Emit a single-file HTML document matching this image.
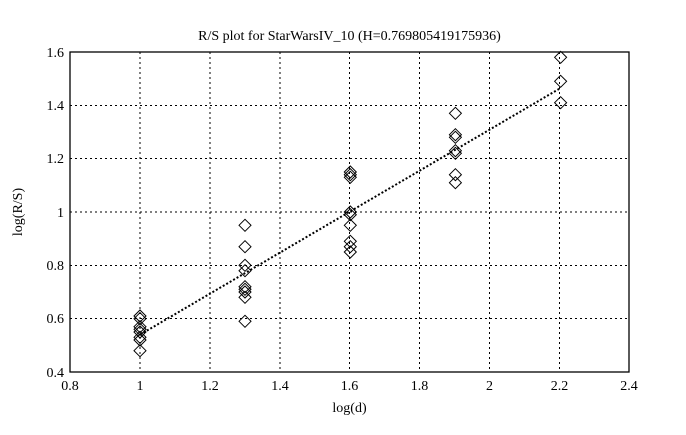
<!DOCTYPE html>
<html><head><style>
body{margin:0;background:#fff}
svg text{font-family:"Liberation Serif",serif;font-size:14px;fill:#000}
</style></head><body>
<svg width="686" height="430" xmlns="http://www.w3.org/2000/svg">
<defs><path id="d" d="M-6,0 L0,-6 L6,0 L0,6 Z" fill="none" stroke="#000" stroke-width="1"/></defs>
<rect width="686" height="430" fill="#fff"/>
<g stroke="#000" stroke-width="1" stroke-dasharray="2,3">
<line x1="140" y1="52" x2="140" y2="372"/>
<line x1="210" y1="52" x2="210" y2="372"/>
<line x1="280" y1="52" x2="280" y2="372"/>
<line x1="349.5" y1="52" x2="349.5" y2="372"/>
<line x1="419.5" y1="52" x2="419.5" y2="372"/>
<line x1="489.5" y1="52" x2="489.5" y2="372"/>
<line x1="559.5" y1="52" x2="559.5" y2="372"/>
<line x1="70" y1="105.5" x2="629" y2="105.5"/>
<line x1="70" y1="158.5" x2="629" y2="158.5"/>
<line x1="70" y1="212" x2="629" y2="212"/>
<line x1="70" y1="265.5" x2="629" y2="265.5"/>
<line x1="70" y1="318.5" x2="629" y2="318.5"/>
</g>
<rect x="70" y="52" width="559" height="320" fill="none" stroke="#000" stroke-width="1.3"/>
<line x1="140" y1="334.7" x2="560.6" y2="88" stroke="#000" stroke-width="2" stroke-dasharray="2,2"/>
<g>
<use href="#d" x="140" y="316"/><use href="#d" x="140" y="318.7"/><use href="#d" x="140" y="326.7"/><use href="#d" x="140" y="329.3"/><use href="#d" x="140" y="332"/><use href="#d" x="140" y="337.3"/><use href="#d" x="140" y="340"/><use href="#d" x="140" y="350.7"/>
<use href="#d" x="245" y="225.3"/><use href="#d" x="245" y="246.7"/><use href="#d" x="245" y="265.3"/><use href="#d" x="245" y="270.7"/><use href="#d" x="245" y="286.7"/><use href="#d" x="245" y="289.3"/><use href="#d" x="245" y="292"/><use href="#d" x="245" y="297.3"/><use href="#d" x="245" y="321.3"/>
<use href="#d" x="350.3" y="172"/><use href="#d" x="350.3" y="174.7"/><use href="#d" x="350.3" y="177.3"/><use href="#d" x="350.3" y="212"/><use href="#d" x="350.3" y="214.7"/><use href="#d" x="350.3" y="225.3"/><use href="#d" x="350.3" y="241.3"/><use href="#d" x="350.3" y="246.7"/><use href="#d" x="350.3" y="252"/>
<use href="#d" x="455.4" y="113.3"/><use href="#d" x="455.4" y="134.7"/><use href="#d" x="455.4" y="137.3"/><use href="#d" x="455.4" y="150.7"/><use href="#d" x="455.4" y="153.3"/><use href="#d" x="455.4" y="174.7"/><use href="#d" x="455.4" y="182.7"/>
<use href="#d" x="560.6" y="57.3"/><use href="#d" x="560.6" y="81.3"/><use href="#d" x="560.6" y="102.7"/>
</g>
<g text-anchor="end">
<text x="64" y="57">1.6</text><text x="64" y="110">1.4</text><text x="64" y="163">1.2</text><text x="64" y="217">1</text><text x="64" y="270">0.8</text><text x="64" y="323">0.6</text><text x="64" y="377">0.4</text>
</g>
<g text-anchor="middle">
<text x="70" y="390">0.8</text><text x="140" y="390">1</text><text x="210" y="390">1.2</text><text x="280" y="390">1.4</text><text x="349.5" y="390">1.6</text><text x="419.5" y="390">1.8</text><text x="489.5" y="390">2</text><text x="559.5" y="390">2.2</text><text x="629" y="390">2.4</text>
<text x="349.5" y="412">log(d)</text>
<text x="349.5" y="40">R/S plot for StarWarsIV_10 (H=0.769805419175936)</text>
<text transform="translate(22,212) rotate(-90)">log(R/S)</text>
</g>
</svg>
</body></html>
